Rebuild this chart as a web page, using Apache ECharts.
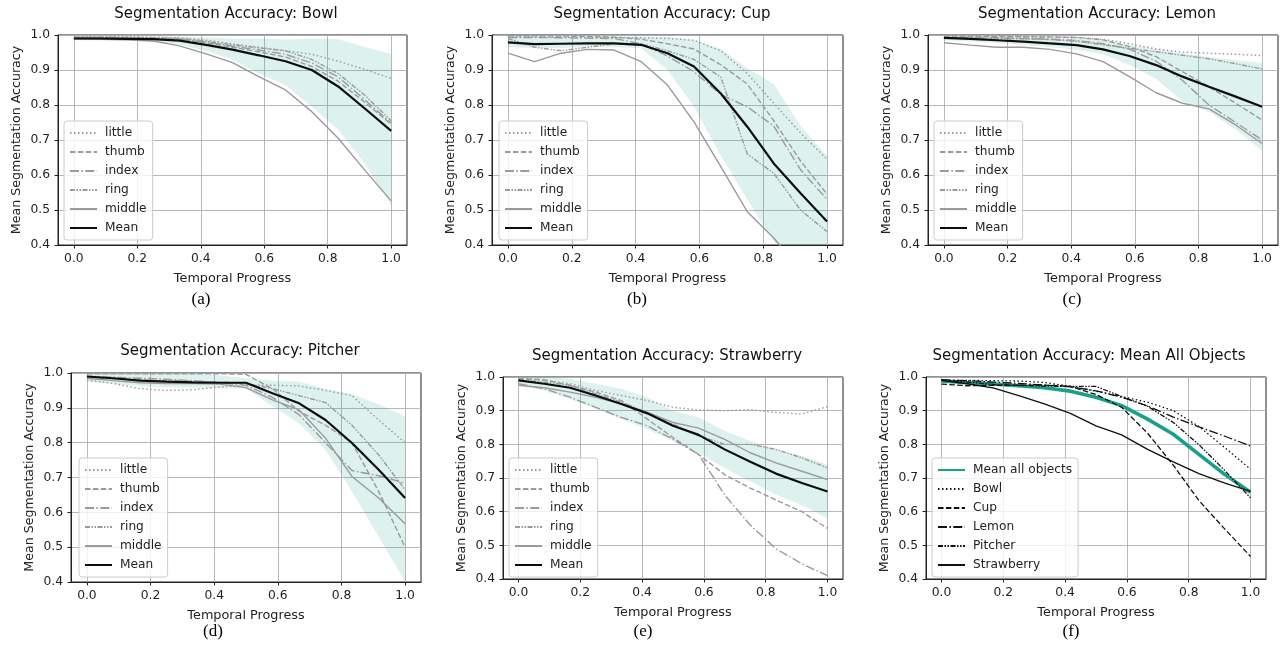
<!DOCTYPE html>
<html>
<head>
<meta charset="utf-8">
<script src="https://cdn.jsdelivr.net/npm/echarts@6/dist/echarts.min.js"></script>
<style>
html,body{margin:0;padding:0;background:#fff;}
#chart{width:1281px;height:647px;}
</style>
</head>
<body>
<div id="chart"></div>
<script>
// ---------- data ----------
const progress = [0, 0.083, 0.167, 0.25, 0.333, 0.417, 0.5, 0.583, 0.667, 0.75, 0.833, 0.917, 1.0];
const xTicks = [0, 0.2, 0.4, 0.6, 0.8, 1.0];
const fingerNames = ['little', 'thumb', 'index', 'ring', 'middle', 'Mean'];
const objectNames = ['Mean all objects', 'Bowl', 'Cup', 'Lemon', 'Pitcher', 'Strawberry'];
const panelTitles = ['Segmentation Accuracy: Bowl', 'Segmentation Accuracy: Cup', 'Segmentation Accuracy: Lemon',
  'Segmentation Accuracy: Pitcher', 'Segmentation Accuracy: Strawberry', 'Segmentation Accuracy: Mean All Objects'];
const panelLetters = ['(a)', '(b)', '(c)', '(d)', '(e)', '(f)'];
const xAxisTitle = 'Temporal Progress';
const yAxisTitle = 'Mean Segmentation Accuracy';

const bowlLittle = [0.995,0.995,0.995,0.994,0.992,0.985,0.975,0.965,0.955,0.945,0.925,0.902,0.876];
const bowlThumb  = [0.993,0.993,0.992,0.990,0.987,0.978,0.965,0.952,0.937,0.910,0.868,0.808,0.745];
const bowlIndex  = [0.992,0.992,0.991,0.990,0.988,0.980,0.968,0.957,0.945,0.920,0.880,0.815,0.748];
const bowlRing   = [0.994,0.994,0.993,0.992,0.990,0.982,0.972,0.963,0.955,0.930,0.890,0.828,0.755];
const bowlMiddle = [0.989,0.988,0.986,0.983,0.969,0.946,0.921,0.881,0.843,0.781,0.705,0.614,0.526];
const bowlMean   = [0.990,0.990,0.989,0.988,0.984,0.972,0.958,0.942,0.925,0.900,0.853,0.790,0.726];
const bowlHigh   = [0.995,0.995,0.995,0.995,0.995,0.993,0.990,0.990,0.987,0.990,0.988,0.966,0.946];
const bowlLow    = [0.985,0.985,0.984,0.981,0.973,0.955,0.930,0.890,0.857,0.795,0.729,0.633,0.514];

const cupLittle = [0.995,0.995,0.994,0.993,0.993,0.992,0.990,0.985,0.955,0.890,0.805,0.720,0.645];
const cupThumb  = [0.998,0.998,0.997,0.996,0.994,0.988,0.975,0.960,0.915,0.860,0.755,0.640,0.545];
const cupIndex  = [0.993,0.993,0.992,0.991,0.990,0.975,0.940,0.895,0.830,0.795,0.740,0.615,0.530];
const cupRing   = [0.990,0.965,0.955,0.965,0.975,0.975,0.955,0.930,0.880,0.660,0.605,0.500,0.438];
const cupMiddle = [0.948,0.924,0.948,0.959,0.957,0.924,0.857,0.752,0.624,0.495,0.420,0.330,0.250];
const cupMean   = [0.979,0.974,0.975,0.976,0.976,0.972,0.948,0.910,0.833,0.738,0.633,0.548,0.467];
const cupHigh   = [0.995,0.995,0.995,0.995,0.995,0.995,0.995,0.985,0.960,0.905,0.860,0.740,0.655];
const cupLow    = [0.965,0.963,0.963,0.965,0.965,0.962,0.900,0.795,0.655,0.530,0.410,0.320,0.250];

const lemonLittle = [0.996,0.996,0.996,0.995,0.995,0.993,0.988,0.975,0.960,0.951,0.948,0.945,0.941];
const lemonThumb  = [0.997,0.997,0.996,0.995,0.994,0.993,0.986,0.967,0.938,0.895,0.852,0.805,0.757];
const lemonIndex  = [0.993,0.993,0.992,0.990,0.988,0.984,0.975,0.960,0.925,0.870,0.800,0.750,0.700];
const lemonRing   = [0.992,0.991,0.990,0.989,0.987,0.982,0.972,0.962,0.952,0.942,0.932,0.918,0.903];
const lemonMiddle = [0.978,0.971,0.965,0.965,0.959,0.946,0.924,0.881,0.835,0.805,0.789,0.743,0.690];
const lemonMean   = [0.992,0.989,0.985,0.981,0.976,0.971,0.959,0.940,0.914,0.881,0.852,0.824,0.795];
const lemonHigh   = [0.998,0.997,0.996,0.994,0.992,0.990,0.985,0.972,0.960,0.948,0.937,0.928,0.920];
const lemonLow    = [0.985,0.982,0.977,0.972,0.966,0.958,0.945,0.915,0.875,0.810,0.780,0.730,0.670];

const pitcherLittle = [0.980,0.970,0.955,0.950,0.952,0.960,0.965,0.965,0.963,0.950,0.935,0.865,0.800];
const pitcherThumb  = [0.998,0.998,0.998,0.998,0.998,0.998,0.996,0.955,0.890,0.850,0.800,0.660,0.500];
const pitcherIndex  = [0.990,0.988,0.985,0.982,0.978,0.972,0.965,0.930,0.880,0.800,0.720,0.705,0.684];
const pitcherRing   = [0.985,0.983,0.980,0.978,0.976,0.974,0.970,0.955,0.935,0.915,0.850,0.765,0.665];
const pitcherMiddle = [0.985,0.978,0.972,0.970,0.970,0.968,0.958,0.923,0.894,0.813,0.703,0.641,0.567];
const pitcherMean   = [0.990,0.985,0.978,0.975,0.973,0.972,0.972,0.942,0.913,0.865,0.799,0.722,0.641];
const pitcherHigh   = [1.000,1.000,1.000,1.000,0.998,0.993,0.985,0.978,0.975,0.955,0.940,0.910,0.875];
const pitcherLow    = [0.975,0.970,0.962,0.960,0.958,0.957,0.955,0.905,0.855,0.780,0.660,0.530,0.400];

const strawLittle = [0.995,0.990,0.980,0.960,0.945,0.930,0.910,0.902,0.900,0.903,0.895,0.890,0.912];
const strawThumb  = [0.995,0.992,0.975,0.955,0.930,0.875,0.820,0.770,0.710,0.670,0.635,0.600,0.550];
const strawIndex  = [0.980,0.965,0.940,0.910,0.880,0.855,0.815,0.770,0.650,0.560,0.490,0.445,0.410];
const strawRing   = [0.990,0.985,0.975,0.950,0.925,0.895,0.860,0.825,0.800,0.800,0.785,0.760,0.730];
const strawMiddle = [0.975,0.968,0.955,0.940,0.920,0.895,0.865,0.848,0.815,0.775,0.745,0.720,0.695];
const strawMean   = [0.990,0.980,0.968,0.945,0.920,0.892,0.855,0.828,0.785,0.748,0.713,0.685,0.660];
const strawHigh   = [1.000,1.000,0.995,0.980,0.965,0.940,0.900,0.880,0.840,0.810,0.785,0.765,0.740];
const strawLow    = [0.975,0.960,0.935,0.905,0.875,0.845,0.810,0.775,0.730,0.690,0.650,0.620,0.580];

const allObjectsMean = [0.988,0.983,0.979,0.974,0.968,0.958,0.940,0.915,0.875,0.830,0.770,0.710,0.658];

// ---------- layout / style ----------
const grids = [
  {left: 58, top: 35, width: 349, height: 210},
  {left: 492, top: 35, width: 351, height: 210},
  {left: 928, top: 35, width: 350, height: 210},
  {left: 71, top: 373, width: 350, height: 209},
  {left: 503, top: 377, width: 340, height: 202},
  {left: 926, top: 377, width: 340, height: 202}
];
const titlePos = [[226, 14], [662, 14], [1097, 14], [240, 351], [667, 356], [1089, 356]];
const letterPos = [[201, 300], [637, 300], [1072, 300], [213, 632], [643, 632], [1071, 632]];
const legendPos = [[64, 121], [499, 121], [934, 121], [79, 458], [509, 458], [932, 458]];

const FONT = 'DejaVu Sans';
const GRAY = '#9a9a9a';
const dashes = {
  dotted: [1.5, 2.5],
  dashed: [5.5, 2.4],
  dashdot: [9, 2.4, 1.5, 2.4],
  dashdotdot: [5, 1.5, 1.5, 1.5, 1.5, 1.5],
  solid: 'solid'
};
const styleKeys = ['dotted', 'dashed', 'dashdot', 'dashdotdot', 'solid'];

const fingerPanels = [
  [bowlLittle, bowlThumb, bowlIndex, bowlRing, bowlMiddle, bowlMean, bowlLow, bowlHigh],
  [cupLittle, cupThumb, cupIndex, cupRing, cupMiddle, cupMean, cupLow, cupHigh],
  [lemonLittle, lemonThumb, lemonIndex, lemonRing, lemonMiddle, lemonMean, lemonLow, lemonHigh],
  [pitcherLittle, pitcherThumb, pitcherIndex, pitcherRing, pitcherMiddle, pitcherMean, pitcherLow, pitcherHigh],
  [strawLittle, strawThumb, strawIndex, strawRing, strawMiddle, strawMean, strawLow, strawHigh]
];

function pts(ys) { return progress.map((x, i) => [x, ys[i]]); }

function lineSeries(name, g, ys, color, width, type, z) {
  return {
    type: 'line', name: name, xAxisIndex: g, yAxisIndex: g,
    data: pts(ys), symbol: 'none', silent: true, z: z || 3,
    lineStyle: {color: color, width: width, type: type, cap: 'butt'},
    itemStyle: {color: color}
  };
}

function bandSeries(g, lo, hi) {
  return {
    type: 'custom', name: 'band' + g, xAxisIndex: g, yAxisIndex: g, silent: true, z: 1, clip: true,
    data: [[0, 1]],
    renderItem: function (params, api) {
      const p = [];
      for (let i = 0; i < progress.length; i++) p.push(api.coord([progress[i], hi[i]]));
      for (let i = progress.length - 1; i >= 0; i--) p.push(api.coord([progress[i], lo[i]]));
      const cs = params.coordSys;
      return {
        type: 'polygon', shape: {points: p},
        style: {fill: 'rgba(30,160,140,0.15)', stroke: null},
        clipPath: {type: 'rect', shape: {x: cs.x, y: cs.y, width: cs.width, height: cs.height}}
      };
    }
  };
}

const series = [];
fingerPanels.forEach((arrs, g) => {
  series.push(bandSeries(g, arrs[6], arrs[7]));
  for (let k = 0; k < 5; k++) {
    series.push(lineSeries(fingerNames[k], g, arrs[k], GRAY, 1.4, dashes[styleKeys[k]]));
  }
  series.push(lineSeries('Mean', g, arrs[5], '#0d0d0d', 2.2, 'solid', 4));
});
// panel f
const objMeans = [bowlMean, cupMean, lemonMean, pitcherMean, strawMean];
objMeans.forEach((ys, k) => {
  series.push(lineSeries(objectNames[k + 1], 5, ys, '#111111', 1.3, dashes[styleKeys[k]]));
});
series.push(lineSeries(objectNames[0], 5, allObjectsMean, '#17a08a', 3.6, 'solid', 2));

const xAxes = grids.map((gr, g) => ({
  type: 'value', gridIndex: g, min: -0.05, max: 1.05,
  name: xAxisTitle, nameLocation: 'middle', nameGap: 27,
  nameTextStyle: {fontFamily: FONT, fontSize: 12.8, color: '#222'},
  axisLine: {show: true, onZero: false, lineStyle: {color: '#222', width: 1}},
  axisTick: {show: true, length: 3.5, inside: false, customValues: xTicks, lineStyle: {color: '#222'}},
  axisLabel: {customValues: xTicks, margin: 8, fontFamily: FONT, fontSize: 12.3, color: '#222',
    formatter: v => v.toFixed(1)},
  splitLine: {show: true, lineStyle: {color: '#b0b0b0', width: 0.9}}
}));
const yAxes = grids.map((gr, g) => ({
  type: 'value', gridIndex: g, min: 0.4, max: 1.0, interval: 0.1,
  name: yAxisTitle, nameLocation: 'middle', nameGap: 35,
  nameTextStyle: {fontFamily: FONT, fontSize: 12.6, color: '#222'},
  axisLine: {show: true, onZero: false, lineStyle: {color: '#222', width: 1}},
  axisTick: {show: true, length: 3.5, lineStyle: {color: '#222'}},
  axisLabel: {margin: 8, fontFamily: FONT, fontSize: 12.3, color: '#222', formatter: v => v.toFixed(1)},
  splitLine: {show: true, lineStyle: {color: '#b0b0b0', width: 0.9}}
}));

const legends = legendPos.map((p, g) => ({
  left: p[0], top: p[1], orient: 'vertical',
  data: g === 5 ? objectNames : fingerNames,
  itemWidth: 27, itemHeight: 14, itemGap: 7,
  padding: [6, 6, 6, 5],
  backgroundColor: 'rgba(255,255,255,0.8)', borderColor: '#cccccc', borderWidth: 1, borderRadius: 3,
  selectedMode: false,
  itemStyle: {opacity: 0},
  textStyle: {fontFamily: FONT, fontSize: 12.2, color: '#222', padding: [0, 0, 0, 3]}
}));

const graphics = [];
panelTitles.forEach((t, g) => {
  graphics.push({type: 'text', x: titlePos[g][0], y: titlePos[g][1], silent: true,
    style: {text: t, textAlign: 'center', textVerticalAlign: 'middle', font: '15px "DejaVu Sans"', fill: '#111'}});
  graphics.push({type: 'text', x: letterPos[g][0], y: letterPos[g][1], silent: true,
    style: {text: panelLetters[g], textAlign: 'center', textVerticalAlign: 'middle', font: '17px "Liberation Serif"', fill: '#000'}});
});

const chart = echarts.init(document.getElementById('chart'), null, {renderer: 'canvas'});
chart.setOption({
  animation: false,
  backgroundColor: '#ffffff',
  grid: grids.map(g => Object.assign({show: true, borderColor: '#222', borderWidth: 1, backgroundColor: 'transparent', containLabel: false}, g)),
  xAxis: xAxes,
  yAxis: yAxes,
  legend: legends,
  graphic: graphics,
  series: series
});
</script>
</body>
</html>
